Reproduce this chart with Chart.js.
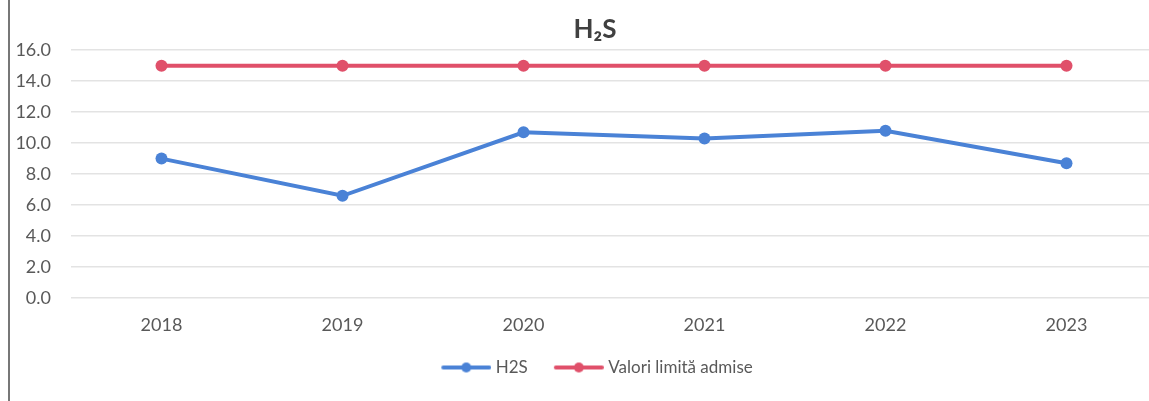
<!DOCTYPE html>
<html>
<head>
<meta charset="utf-8">
<script src="https://cdn.jsdelivr.net/npm/chart.js@4"></script>
<style>
  html, body { margin: 0; padding: 0; background: #fff; overflow: hidden; width: 1149px; height: 401px; }
  #wrap { position: relative; width: 1149px; height: 401px; overflow: hidden; }
  #edge { position: absolute; left: 8px; top: 0; width: 2px; height: 401px; background: #777; }
  canvas { position: absolute; left: 0; top: 0; }
</style>
</head>
<body>
<div id="wrap">
  <canvas id="lineChart" width="1190" height="401"></canvas>
  <div id="edge"></div>
</div>
<script>
// data
const years = ["2018", "2019", "2020", "2021", "2022", "2023"];
const h2s = [9.0, 6.6, 10.7, 10.3, 10.8, 8.7];
const limit = [15.0, 15.0, 15.0, 15.0, 15.0, 15.0];
const yTicks = [0, 2, 4, 6, 8, 10, 12, 14, 16];

const blue = "#4a82d6";
const red = "#e0506a";

// little line + dot icon for the legend (shifted right so it sits close to its text)
function legendIcon(color) {
  const c = document.createElement('canvas');
  c.width = 58;
  c.height = 12;
  const g = c.getContext('2d');
  g.strokeStyle = color;
  g.lineWidth = 4;
  g.lineCap = 'round';
  g.beginPath();
  g.moveTo(10, 6);
  g.lineTo(56, 6);
  g.stroke();
  g.fillStyle = color;
  g.beginPath();
  g.arc(33, 6, 5, 0, Math.PI * 2);
  g.fill();
  return c;
}
const icons = [legendIcon(blue), legendIcon(red)];

const ctx = document.getElementById('lineChart').getContext('2d');
let lineChart = new Chart(ctx, {
  type: 'line',
  data: {
    labels: years,
    datasets: [{
      label: "H2S",
      data: h2s,
      borderColor: blue,
      backgroundColor: blue,
      borderWidth: 4,
      pointRadius: 6,
      pointHoverRadius: 6,
      pointBorderWidth: 0,
      tension: 0
    }, {
      label: "Valori limită admise",
      data: limit,
      borderColor: red,
      backgroundColor: red,
      borderWidth: 4,
      pointRadius: 6,
      pointHoverRadius: 6,
      pointBorderWidth: 0,
      tension: 0
    }]
  },
  options: {
    responsive: false,
    animation: false,
    layout: {
      padding: { left: 0, right: 0, top: 0, bottom: 15 }
    },
    plugins: {
      title: {
        display: true,
        text: 'H₂S',
        color: '#404040',
        font: { family: 'Lato', size: 26, weight: 'bold' },
        padding: { top: 14, bottom: 5 }
      },
      legend: {
        position: 'bottom',
        labels: {
          color: '#595959',
          font: { family: 'Lato', size: 17 },
          usePointStyle: true,
          pointStyleWidth: 50,
          boxHeight: 12,
          padding: 22,
          generateLabels: function(chart) {
            const items = Chart.defaults.plugins.legend.labels.generateLabels(chart);
            items.forEach(function(it, i) { it.pointStyle = icons[i]; });
            return items;
          }
        }
      },
      tooltip: { enabled: false }
    },
    scales: {
      x: {
        offset: true,
        afterFit: function(scale) { scale.height = 39; },
        grid: { display: false, drawTicks: false },
        border: { display: false },
        ticks: {
          color: '#595959',
          font: { family: 'Lato', size: 18 },
          padding: 16
        }
      },
      y: {
        min: 0,
        max: 16,
        afterFit: function(scale) { scale.width = 71; },
        afterBuildTicks: function(scale) {
          scale.ticks = yTicks.map(function(v) { return { value: v }; });
        },
        grid: { color: '#e3e3e3', lineWidth: 1.5, drawTicks: false },
        border: { display: false },
        ticks: {
          color: '#595959',
          font: { family: 'Lato', size: 18 },
          padding: 20,
          callback: function(v) { return v.toFixed(1); }
        }
      },
      // empty right-hand axis, keeps title and legend centred like the original
      yRight: {
        position: 'right',
        afterFit: function(scale) { scale.width = 33; },
        grid: { display: false, drawTicks: false },
        border: { display: false },
        ticks: { display: false }
      }
    }
  }
});
</script>
</body>
</html>
